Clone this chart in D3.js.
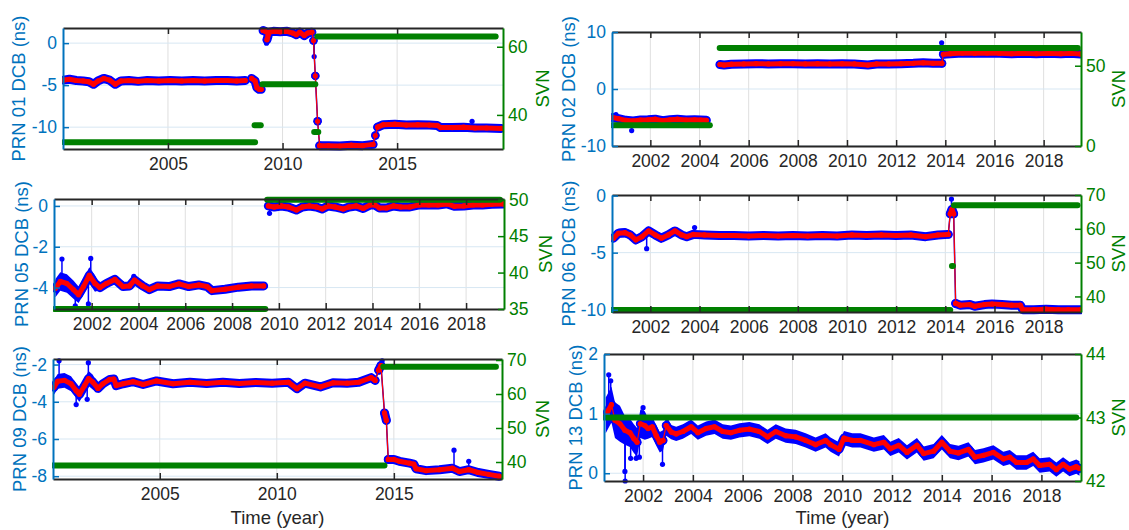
<!DOCTYPE html>
<html>
<head>
<meta charset="utf-8">
<script src="https://cdn.jsdelivr.net/npm/d3@7"></script>
<style>
  body { margin: 0; background: #fff; }
  svg { font-family: "Liberation Sans", Arial, Helvetica, sans-serif; }
</style>
</head>
<body>
<div id="chart"></div>
<script>
// DCB smoothed values [year, ns]; null marks a gap in the record
var dcb01 = [[2000.45,-4.4],[2000.7,-4.3],[2001.0,-4.45],[2001.3,-4.5],[2001.55,-4.6],[2001.75,-4.9],[2001.95,-4.5],[2002.2,-4.2],[2002.45,-4.4],[2002.7,-4.9],[2002.95,-4.5],[2003.3,-4.45],[2003.7,-4.55],[2004.1,-4.45],[2004.6,-4.5],[2005.1,-4.45],[2005.6,-4.5],[2006.1,-4.45],[2006.6,-4.5],[2007.1,-4.45],[2007.6,-4.45],[2008.0,-4.5],[2008.37,-4.45],[2008.5,null],[2008.65,-4.2],[2008.8,-4.5],[2008.88,-5.3],[2008.98,-5.5],[2009.07,-5.5],[2009.1,null],[2009.15,1.5],[2009.25,1.4],[2009.32,0.4],[2009.42,1.3],[2009.6,1.4],[2009.9,1.35],[2010.2,1.4],[2010.45,1.2],[2010.6,1.0],[2010.75,1.3],[2010.95,0.9],[2011.1,1.2],[2011.28,1.3],[2011.35,0.3],[2011.43,-3.9],[2011.53,-9.3],[2011.62,-12.2],[2012.0,-12.2],[2012.5,-12.25],[2013.0,-12.15],[2013.5,-12.2],[2013.95,-12.05],[2014.05,-11.0],[2014.15,-10.0],[2014.4,-9.7],[2014.9,-9.65],[2015.4,-9.75],[2015.9,-9.7],[2016.4,-9.75],[2016.75,-9.8],[2016.9,-10.05],[2017.4,-10.05],[2017.9,-10.0],[2018.4,-10.1],[2018.9,-10.1],[2019.55,-10.15]];
var dcb02 = [[2000.47,-5.0],[2000.7,-5.2],[2001.0,-5.5],[2001.3,-5.6],[2001.6,-5.45],[2001.9,-5.4],[2002.2,-5.3],[2002.5,-5.55],[2002.8,-5.4],[2003.1,-5.3],[2003.45,-5.45],[2003.8,-5.4],[2004.05,-5.45],[2004.28,-5.5],[2004.5,null],[2004.83,4.3],[2005.0,4.2],[2005.3,4.35],[2005.8,4.4],[2006.3,4.45],[2006.8,4.4],[2007.3,4.45],[2007.8,4.45],[2008.3,4.4],[2008.8,4.45],[2009.3,4.4],[2009.8,4.45],[2010.3,4.4],[2010.85,4.2],[2011.2,4.4],[2011.7,4.4],[2012.2,4.45],[2012.7,4.5],[2013.1,4.6],[2013.5,4.5],[2013.86,4.5],[2013.92,6.1],[2014.2,6.2],[2014.7,6.3],[2015.2,6.25],[2015.7,6.3],[2016.2,6.25],[2016.7,6.2],[2017.2,6.25],[2017.7,6.2],[2018.2,6.25],[2018.7,6.2],[2019.1,6.25],[2019.5,6.15]];
var dcb05 = [[2000.45,-4.03],[2000.66,-3.7],[2000.94,-3.8],[2001.22,-4.1],[2001.44,-4.35],[2001.65,-3.95],[2001.9,-3.4],[2002.14,-3.8],[2002.35,-4.0],[2002.63,-3.8],[2002.99,-3.6],[2003.34,-3.95],[2003.62,-3.92],[2003.83,-3.63],[2004.18,-3.92],[2004.46,-4.1],[2004.82,-3.92],[2005.31,-3.95],[2005.73,-3.82],[2006.15,-3.95],[2006.58,-3.87],[2006.93,-3.95],[2007.14,-4.15],[2007.7,-4.08],[2008.27,-3.98],[2008.83,-3.92],[2009.35,-3.92],[2009.45,null],[2009.55,0.0],[2009.8,-0.05],[2010.1,0.0],[2010.4,-0.05],[2010.75,-0.2],[2011.0,-0.05],[2011.3,0.0],[2011.6,-0.05],[2011.85,-0.15],[2012.1,0.0],[2012.4,-0.05],[2012.75,-0.15],[2013.0,-0.05],[2013.3,0.0],[2013.6,-0.12],[2013.9,0.05],[2014.1,0.05],[2014.3,-0.1],[2014.6,-0.1],[2014.9,0.0],[2015.2,-0.05],[2015.6,-0.05],[2016.0,0.05],[2016.4,0.05],[2016.8,0.05],[2017.2,0.1],[2017.5,-0.02],[2017.9,0.0],[2018.3,0.05],[2018.7,0.05],[2019.1,0.08],[2019.6,0.1]];
var dcb06 = [[2000.5,-3.73],[2000.7,-3.3],[2000.97,-3.25],[2001.18,-3.45],[2001.41,-3.88],[2001.66,-3.6],[2001.93,-3.1],[2002.2,-3.45],[2002.45,-3.73],[2002.73,-3.45],[2003.0,-3.1],[2003.27,-3.45],[2003.48,-3.6],[2003.75,-3.4],[2004.2,-3.45],[2004.8,-3.5],[2005.4,-3.5],[2006.0,-3.55],[2006.6,-3.5],[2007.2,-3.55],[2007.8,-3.5],[2008.4,-3.55],[2009.0,-3.5],[2009.6,-3.55],[2010.2,-3.45],[2010.8,-3.5],[2011.4,-3.45],[2012.0,-3.5],[2012.6,-3.45],[2013.2,-3.6],[2013.7,-3.45],[2014.12,-3.4],[2014.2,-1.6],[2014.27,-1.2],[2014.34,-1.6],[2014.42,-9.45],[2014.6,-9.6],[2015.0,-9.55],[2015.2,-9.7],[2015.6,-9.55],[2015.9,-9.5],[2016.3,-9.55],[2016.7,-9.6],[2017.05,-9.6],[2017.15,-10.0],[2017.6,-10.0],[2018.1,-9.95],[2018.6,-10.0],[2019.0,-10.0],[2019.5,-10.0]];
var dcb09 = [[2000.48,-3.22],[2000.64,-2.9],[2000.93,-2.85],[2001.21,-3.03],[2001.43,-3.4],[2001.57,-3.6],[2001.79,-3.13],[2001.96,-2.75],[2002.14,-2.94],[2002.36,-3.28],[2002.57,-3.03],[2002.86,-2.8],[2003.04,-2.78],[2003.14,-3.13],[2003.43,-3.03],[2003.86,-2.92],[2004.29,-3.07],[2004.86,-2.88],[2005.57,-3.03],[2006.29,-2.95],[2007.0,-3.02],[2007.7,-2.95],[2008.4,-3.02],[2009.1,-2.96],[2009.8,-3.0],[2010.5,-2.95],[2010.86,-3.3],[2011.2,-3.0],[2011.86,-3.2],[2012.4,-2.98],[2013.0,-3.0],[2013.5,-2.95],[2014.03,-2.7],[2014.2,-2.85],[2014.35,-2.3],[2014.45,-2.05],[2014.6,-4.6],[2014.68,-5.0],[2014.76,-7.1],[2015.0,-7.1],[2015.24,-7.2],[2015.67,-7.3],[2015.85,-7.35],[2015.95,-7.6],[2016.38,-7.7],[2016.95,-7.65],[2017.5,-7.57],[2017.8,-7.75],[2018.2,-7.65],[2018.6,-7.8],[2019.05,-7.9],[2019.5,-8.0]];
var dcb13 = [[2000.5,0.97],[2000.6,1.05],[2000.73,1.15],[2000.87,0.89],[2001.07,0.83],[2001.27,0.72],[2001.47,0.68],[2001.63,0.58],[2001.76,0.52],[2001.89,0.83],[2002.07,0.8],[2002.2,0.75],[2002.37,0.78],[2002.53,0.63],[2002.67,0.52],[2002.8,0.55],[2002.93,0.8],[2003.13,0.69],[2003.33,0.66],[2003.6,0.7],[2003.93,0.78],[2004.2,0.68],[2004.53,0.75],[2004.87,0.78],[2005.2,0.7],[2005.53,0.68],[2005.87,0.72],[2006.27,0.74],[2006.67,0.7],[2007.0,0.61],[2007.33,0.7],[2007.73,0.63],[2008.13,0.61],[2008.53,0.55],[2008.93,0.48],[2009.33,0.55],[2009.53,0.48],[2009.87,0.4],[2010.07,0.59],[2010.4,0.55],[2010.73,0.55],[2011.27,0.48],[2011.67,0.52],[2011.93,0.41],[2012.27,0.47],[2012.6,0.35],[2013.0,0.47],[2013.27,0.33],[2013.67,0.37],[2014.0,0.52],[2014.33,0.37],[2014.67,0.34],[2015.07,0.4],[2015.33,0.27],[2015.67,0.3],[2016.07,0.35],[2016.47,0.24],[2016.73,0.27],[2017.0,0.18],[2017.4,0.18],[2017.67,0.24],[2017.93,0.13],[2018.33,0.15],[2018.6,0.06],[2018.87,0.15],[2019.13,0.07],[2019.4,0.11],[2019.53,0.08]];

// half width (ns) of the daily scatter, from the given year on
var spread01 = [[2000.4,0.15],[2003.2,0.05]];
var spread02 = [[2000.4,0.3],[2002.0,0.15],[2004.6,0]];
var spread05 = [[2000.4,0.45],[2001.3,0.4],[2002.3,0.12],[2003.0,0.08],[2009.5,0.05]];
var spread06 = [[2000.4,0.4],[2002.5,0.15],[2003.8,0.05]];
var spread09 = [[2000.4,0.4],[2002.3,0.2],[2003.1,0.08]];
var spread13 = [[2000.4,0.3],[2001.1,0.24],[2002.1,0.17],[2003.0,0.12]];

// single daily outliers [year, ns]
var spikes01 = [[2011.38,-1.6],[2018.27,-9.3],[2009.3,0.0]];
var spikes02 = [[2001.24,-7.3],[2013.85,8.1],[2000.6,-4.5]];
var spikes05 = [[2000.73,-2.6],[2001.96,-2.57],[2001.3,-4.9],[2001.86,-4.8],[2009.6,-0.36],[2003.8,-3.45]];
var spikes06 = [[2001.85,-4.65],[2014.25,-0.3],[2003.8,-2.8]];
var spikes09 = [[2000.7,-1.8],[2001.95,-1.9],[2001.43,-4.15],[2001.9,-3.87],[2014.5,-1.8],[2017.57,-6.6],[2018.2,-7.2]];
var spikes13 = [[2000.62,1.65],[2000.7,1.55],[2001.28,-0.13],[2001.27,0.03],[2001.5,0.25],[2001.72,0.25],[2001.85,0.27],[2002.0,1.1],[2002.78,0.15]];

// SVN occupying each PRN slot [from, to, svn]
var svn01 = [[2000.45,2008.8,32],[2008.78,2009.05,37],[2009.12,2011.43,49],[2011.38,2011.56,35],[2011.52,2019.3,63]];
var svn02 = [[2000.44,2004.42,13],[2004.82,2019.39,61]];
var svn05 = [[2000.4,2009.42,35],[2009.5,2019.45,50]];
var svn06 = [[2000.44,2014.2,36],[2014.27,2014.31,49],[2014.35,2019.38,67]];
var svn09 = [[2000.44,2014.6,39],[2014.55,2019.36,68]];
var svn13 = [[2000.44,2019.4,43]];

// tick labels
var ticksYear5 = [2005, 2010, 2015];
var ticksYear2 = [2002, 2004, 2006, 2008, 2010, 2012, 2014, 2016, 2018];

var blue = '#0000ff', red = '#ff0000', green = '#008000';
var axisBlue = '#0072bd', axisDark = '#262626';

var svg = d3.select('#chart').append('svg')
  .attr('width', 1129)
  .attr('height', 530);

var panels = [
  {prn: '01', dcb: dcb01, spread: spread01, spikes: spikes01, svn: svn01,
   left: 63, right: 503, top: 28, bottom: 149,
   xDomain: [2000.42, 2019.62], yDomain: [-12.6, 1.8], y2Domain: [30, 65.5],
   xTicks: ticksYear5, yTicks: [-10, -5, 0], y2Ticks: [40, 60], labelX: 18.5, svnX: 543},
  {prn: '02', dcb: dcb02, spread: spread02, spikes: spikes02, svn: svn02,
   left: 612, right: 1081, top: 32, bottom: 146,
   xDomain: [2000.44, 2019.52], yDomain: [-10, 10], y2Domain: [0, 71],
   xTicks: ticksYear2, yTicks: [-10, 0, 10], y2Ticks: [0, 50], labelX: 569, svnX: 1119},
  {prn: '05', dcb: dcb05, spread: spread05, spikes: spikes05, svn: svn05,
   left: 54, right: 504, top: 199, bottom: 309,
   xDomain: [2000.39, 2019.62], yDomain: [-5.05, 0.34], y2Domain: [35, 50.1],
   xTicks: ticksYear2, yTicks: [-4, -2, 0], y2Ticks: [35, 40, 45, 50], labelX: 21.5, svnX: 546},
  {prn: '06', dcb: dcb06, spread: spread06, spikes: spikes06, svn: svn06,
   left: 612, right: 1081, top: 195, bottom: 312,
   xDomain: [2000.44, 2019.52], yDomain: [-10.2, 0.05], y2Domain: [35.4, 70],
   xTicks: ticksYear2, yTicks: [-10, -5, 0], y2Ticks: [40, 50, 60, 70], labelX: 569, svnX: 1119},
  {prn: '09', dcb: dcb09, spread: spread09, spikes: spikes09, svn: svn09,
   left: 53, right: 502, top: 359, bottom: 479,
   xDomain: [2000.44, 2019.62], yDomain: [-8.15, -1.7], y2Domain: [35, 70.3],
   xTicks: ticksYear5, yTicks: [-8, -6, -4, -2], y2Ticks: [40, 50, 60, 70], labelX: 20, svnX: 543, xlabel: true},
  {prn: '13', dcb: dcb13, spread: spread13, spikes: spikes13, svn: svn13,
   left: 604, right: 1081, top: 354, bottom: 481,
   xDomain: [2000.43, 2019.59], yDomain: [-0.13, 2], y2Domain: [42, 44],
   xTicks: ticksYear2, yTicks: [0, 1, 2], y2Ticks: [42, 43, 44], labelX: 576, svnX: 1119, xlabel: true}
];

var styleAxis = function(sel, color) {
  sel.select('.domain').attr('stroke', color).attr('stroke-width', 2);
  sel.selectAll('.tick line').attr('stroke', color).attr('stroke-width', 1.5);
  sel.selectAll('.tick text').attr('fill', color).attr('font-size', '17.5px');
};

var renderPanel = function(p, i) {
  var g = svg.append('g');
  var x = d3.scaleLinear().domain(p.xDomain).range([p.left, p.right]);
  var y = d3.scaleLinear().domain(p.yDomain).range([p.bottom, p.top]);
  var y2 = d3.scaleLinear().domain(p.y2Domain).range([p.bottom, p.top]);

  // grid
  g.selectAll('line.vgrid').data(p.xTicks).enter().append('line')
    .attr('x1', function(d) { return x(d); }).attr('x2', function(d) { return x(d); })
    .attr('y1', p.top).attr('y2', p.bottom)
    .attr('stroke', '#dfdfdf').attr('stroke-width', 1);
  g.selectAll('line.hgrid').data(p.yTicks).enter().append('line')
    .attr('x1', p.left).attr('x2', p.right)
    .attr('y1', function(d) { return y(d); }).attr('y2', function(d) { return y(d); })
    .attr('stroke', '#d7e7f3').attr('stroke-width', 1);

  var clipId = 'clip' + i;
  svg.append('clipPath').attr('id', clipId).append('rect')
    .attr('x', p.left - 1).attr('y', p.top - 4)
    .attr('width', p.right - p.left + 2).attr('height', p.bottom - p.top + 8);
  var plot = g.append('g').attr('clip-path', 'url(#' + clipId + ')');

  // split the record at gaps
  var runs = [], cur = [];
  p.dcb.forEach(function(d) {
    if (d[1] === null) { if (cur.length) runs.push(cur); cur = []; }
    else cur.push(d);
  });
  if (cur.length) runs.push(cur);

  var spreadAt = function(t) {
    var s = 0;
    p.spread.forEach(function(d) { if (d[0] <= t) s = d[1]; });
    return s;
  };
  var isJump = function(a, b) {
    var dx = Math.abs(x(b[0]) - x(a[0])), dy = Math.abs(y(b[1]) - y(a[1]));
    return dy > 8 && dy > 2.5 * dx;
  };
  var calmParts = function(run) {
    var parts = [], part = [run[0]];
    for (var k = 1; k < run.length; k++) {
      if (isJump(run[k - 1], run[k])) { parts.push(part); part = [run[k]]; }
      else part.push(run[k]);
    }
    parts.push(part);
    return parts;
  };
  var jumpEnds = [];
  runs.forEach(function(run) {
    for (var k = 1; k < run.length; k++) {
      if (isJump(run[k - 1], run[k])) { jumpEnds.push(run[k - 1]); jumpEnds.push(run[k]); }
    }
  });
  var nearest = function(t) {
    var best = null;
    runs.forEach(function(run) {
      run.forEach(function(d) { if (!best || Math.abs(d[0] - t) < Math.abs(best[0] - t)) best = d; });
    });
    return best[1];
  };

  var line = d3.line().x(function(d) { return x(d[0]); }).y(function(d) { return y(d[1]); });
  var area = d3.area()
    .x(function(d) { return x(d[0]); })
    .y0(function(d) { return y(d[1] - spreadAt(d[0])); })
    .y1(function(d) { return y(d[1] + spreadAt(d[0])); });

  // blue: daily estimates
  runs.forEach(function(run) {
    plot.append('path').attr('d', area(run)).attr('fill', blue);
    plot.append('path').attr('d', line(run)).attr('fill', 'none')
      .attr('stroke', blue).attr('stroke-width', 1.5);
  });
  p.spikes.forEach(function(s) {
    plot.append('line')
      .attr('x1', x(s[0])).attr('x2', x(s[0]))
      .attr('y1', y(nearest(s[0]))).attr('y2', y(s[1]))
      .attr('stroke', blue).attr('stroke-width', 1.5);
    plot.append('circle').attr('cx', x(s[0])).attr('cy', y(s[1])).attr('r', 2.6).attr('fill', blue);
  });
  runs.forEach(function(run) {
    calmParts(run).forEach(function(part) {
      if (part.length > 1) {
        plot.append('path').attr('d', line(part)).attr('fill', 'none')
          .attr('stroke', blue).attr('stroke-width', 9)
          .attr('stroke-linecap', 'round').attr('stroke-linejoin', 'round');
      }
    });
  });
  plot.selectAll('circle.jb').data(jumpEnds).enter().append('circle')
    .attr('cx', function(d) { return x(d[0]); }).attr('cy', function(d) { return y(d[1]); })
    .attr('r', 4.2).attr('fill', blue);

  // red: smoothed
  runs.forEach(function(run) {
    plot.append('path').attr('d', line(run)).attr('fill', 'none')
      .attr('stroke', red).attr('stroke-width', 1.2);
    calmParts(run).forEach(function(part) {
      if (part.length > 1) {
        plot.append('path').attr('d', line(part)).attr('fill', 'none')
          .attr('stroke', red).attr('stroke-width', 5)
          .attr('stroke-linecap', 'round').attr('stroke-linejoin', 'round');
      }
    });
    plot.selectAll(null).data(run).enter().append('circle')
      .attr('cx', function(d) { return x(d[0]); }).attr('cy', function(d) { return y(d[1]); })
      .attr('r', 2.6).attr('fill', red);
  });

  // green: SVN on right axis
  plot.selectAll('line.svn').data(p.svn).enter().append('line')
    .attr('x1', function(d) { return x(d[0]); }).attr('x2', function(d) { return x(d[1]); })
    .attr('y1', function(d) { return y2(d[2]); }).attr('y2', function(d) { return y2(d[2]); })
    .attr('stroke', green).attr('stroke-width', 6).attr('stroke-linecap', 'round');

  // axes
  var fmt = function(d) { return String(d); };
  var bottomAxis = g.append('g').attr('transform', 'translate(0,' + p.bottom + ')')
    .call(d3.axisBottom(x).tickValues(p.xTicks).tickSizeInner(-6).tickSizeOuter(0).tickPadding(9).tickFormat(fmt));
  styleAxis(bottomAxis, axisDark);
  var topAxis = g.append('g').attr('transform', 'translate(0,' + p.top + ')')
    .call(d3.axisTop(x).tickValues(p.xTicks).tickSizeInner(-6).tickSizeOuter(0).tickFormat(''));
  styleAxis(topAxis, axisDark);
  var leftAxis = g.append('g').attr('transform', 'translate(' + p.left + ',0)')
    .call(d3.axisLeft(y).tickValues(p.yTicks).tickSizeInner(-6).tickSizeOuter(0).tickPadding(6).tickFormat(fmt));
  styleAxis(leftAxis, axisBlue);
  var rightAxis = g.append('g').attr('transform', 'translate(' + p.right + ',0)')
    .call(d3.axisRight(y2).tickValues(p.y2Ticks).tickSizeInner(-6).tickSizeOuter(0).tickPadding(5).tickFormat(fmt));
  styleAxis(rightAxis, green);
  g.selectAll('.tick text').attr('font-family', '"Liberation Sans", Arial, sans-serif');

  var midY = (p.top + p.bottom) / 2;
  g.append('text')
    .attr('transform', 'translate(' + p.labelX + ',' + midY + ') rotate(-90)')
    .attr('text-anchor', 'middle').attr('dy', '0.35em')
    .attr('font-size', '18.5px').attr('fill', axisBlue)
    .text('PRN ' + p.prn + ' DCB (ns)');
  g.append('text')
    .attr('transform', 'translate(' + p.svnX + ',' + midY + ') rotate(-90)')
    .attr('text-anchor', 'middle').attr('dy', '0.35em')
    .attr('font-size', '18.5px').attr('fill', green)
    .text('SVN');
  if (p.xlabel) {
    g.append('text')
      .attr('x', (p.left + p.right) / 2).attr('y', 524)
      .attr('text-anchor', 'middle')
      .attr('font-size', '18.5px').attr('fill', axisDark)
      .text('Time (year)');
  }
};

panels.forEach(renderPanel);
</script>
</body>
</html>
